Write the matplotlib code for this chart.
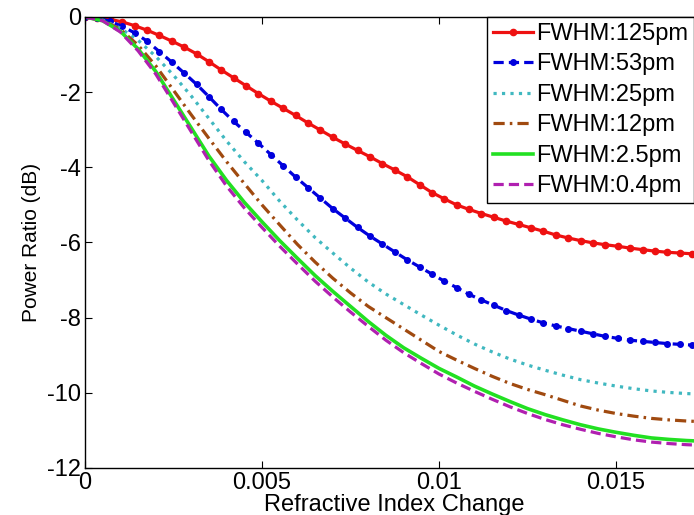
import matplotlib
matplotlib.use("Agg")
import matplotlib.pyplot as plt
import numpy as np

plt.rcParams['font.family'] = ['Liberation Sans', 'DejaVu Sans']

# Marker grid for the two marked series (step 0.00035)
x_marked = [0.00035 * k for k in range(51)]
red_125 = [0, -0.015, -0.06, -0.13, -0.23, -0.35, -0.49, -0.64, -0.8, -0.98,
           -1.19, -1.41, -1.62, -1.83, -2.04, -2.24, -2.43, -2.62, -2.82, -3.01,
           -3.2, -3.38, -3.55, -3.72, -3.9, -4.07, -4.25, -4.46, -4.67, -4.84,
           -5.0, -5.12, -5.23, -5.33, -5.43, -5.52, -5.61, -5.7, -5.8, -5.88,
           -5.95, -6.01, -6.06, -6.1, -6.15, -6.19, -6.23, -6.26, -6.28, -6.3, -6.32]
blue_53 = [0, -0.03, -0.11, -0.25, -0.42, -0.64, -0.92, -1.2, -1.49, -1.79,
           -2.12, -2.46, -2.78, -3.07, -3.36, -3.66, -3.96, -4.26, -4.54, -4.82,
           -5.1, -5.35, -5.6, -5.83, -6.04, -6.25, -6.46, -6.65, -6.84, -7.03,
           -7.2, -7.38, -7.53, -7.67, -7.81, -7.93, -8.04, -8.14, -8.22, -8.29,
           -8.36, -8.43, -8.5, -8.55, -8.6, -8.63, -8.66, -8.69, -8.71, -8.73, -8.74]

# Grid for the unmarked series (step 0.0005)
x_plain = [0.0005 * k for k in range(36)]
cyan_25 = [0, -0.08, -0.3, -0.62, -1.05, -1.55, -2.1, -2.7, -3.3, -3.85,
           -4.35, -4.9, -5.4, -5.87, -6.28, -6.68, -7.05, -7.37, -7.65, -7.93,
           -8.2, -8.46, -8.7, -8.91, -9.1, -9.26, -9.4, -9.53, -9.65, -9.74,
           -9.82, -9.89, -9.95, -9.99, -10.02, -10.04]
brown_12 = [0, -0.09, -0.33, -0.75, -1.3, -1.95, -2.6, -3.23, -3.85, -4.43,
            -5.0, -5.53, -6.05, -6.52, -6.95, -7.34, -7.7, -8.0, -8.3, -8.6,
            -8.9, -9.13, -9.35, -9.56, -9.75, -9.91, -10.05, -10.2, -10.35, -10.46,
            -10.55, -10.62, -10.68, -10.72, -10.75, -10.77]
green_2p5 = [0, -0.1, -0.38, -0.85, -1.45, -2.2, -2.95, -3.7, -4.35, -4.93,
             -5.45, -5.95, -6.42, -6.88, -7.3, -7.7, -8.1, -8.47, -8.8, -9.08,
             -9.35, -9.58, -9.82, -10.03, -10.23, -10.42, -10.58, -10.72, -10.85, -10.96,
             -11.05, -11.13, -11.2, -11.24, -11.27, -11.29]
magenta_0p4 = [0, -0.1, -0.4, -0.9, -1.52, -2.28, -3.05, -3.82, -4.5, -5.08,
               -5.6, -6.1, -6.57, -7.03, -7.45, -7.85, -8.23, -8.6, -8.93, -9.22,
               -9.5, -9.74, -9.96, -10.17, -10.37, -10.55, -10.71, -10.85, -10.97, -11.08,
               -11.17, -11.25, -11.31, -11.35, -11.38, -11.4]

labels = ["FWHM:125pm", "FWHM:53pm", "FWHM:25pm", "FWHM:12pm", "FWHM:2.5pm", "FWHM:0.4pm"]
xticks = [0, 0.005, 0.01, 0.015]
xticklabels = ["0", "0.005", "0.01", "0.015"]
yticks = [0, -2, -4, -6, -8, -10, -12]
yticklabels = ["0", "-2", "-4", "-6", "-8", "-10", "-12"]

W, H = 694, 515
fig = plt.figure(figsize=(W / 100, H / 100), dpi=100)
ax = fig.add_axes([85 / W, 47 / H, (704.5 - 85) / W, (498 - 47) / H])

lw = 2.3
ax.plot(x_marked, red_125, color='#ee1111', lw=lw, marker='o', ms=4.5, label=labels[0])
ax.plot(x_marked, blue_53, color='#0000dd', lw=lw, marker='o', ms=4, dashes=(3.2, 1.6), label=labels[1])
ax.plot(x_plain, cyan_25, color='#40b8c0', lw=lw, linestyle=':', label=labels[2])
ax.plot(x_plain, brown_12, color='#a04a10', lw=lw, dashes=(3.5, 1.6, 0.8, 1.6), label=labels[3])
ax.plot(x_plain, green_2p5, color='#22e022', lw=lw + 0.3, label=labels[4])
ax.plot(x_plain, magenta_0p4, color='#b020b0', lw=lw, dashes=(3.2, 1.6), label=labels[5])

ax.set_xlim(0, 0.0175)
ax.set_ylim(-12, 0)
ax.set_xticks(xticks)
ax.set_xticklabels(xticklabels)
ax.set_yticks(yticks)
ax.set_yticklabels(yticklabels)
ax.tick_params(direction='in', length=5, labelsize=17, top=True, right=True, pad=3)
for s in ax.spines.values():
    s.set_linewidth(1.0)
ax.set_xlabel("Refractive Index Change", fontsize=17, labelpad=0)
ax.set_ylabel("Power Ratio (dB)", fontsize=15, labelpad=4)

leg = ax.legend(loc='upper left', bbox_to_anchor=(487 / W, 498 / H), bbox_transform=fig.transFigure,
                borderaxespad=0, fontsize=17, handlelength=1.7, handletextpad=0.12,
                labelspacing=0.36, borderpad=0.25, fancybox=False, framealpha=1)
leg.get_frame().set_edgecolor('black')
leg.get_frame().set_linewidth(1.0)

fig.savefig("out.png", dpi=100)
